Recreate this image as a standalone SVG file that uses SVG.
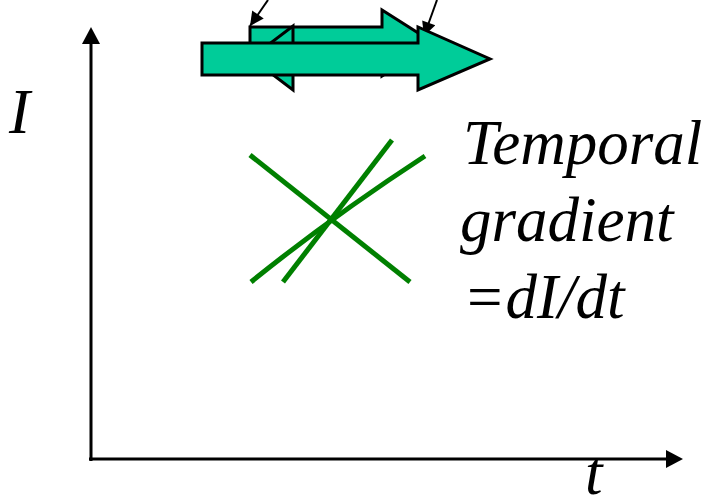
<svg xmlns="http://www.w3.org/2000/svg" width="714" height="501" viewBox="0 0 714 501">
<style>
.blk{fill:#00CC99;stroke:#000;stroke-width:3;stroke-linejoin:miter}
.ax{stroke:#000;stroke-width:3;fill:none}
.ah{fill:#000;stroke:none}
.thin{stroke:#000;stroke-width:2;fill:none}
.gl{stroke:#008000;stroke-width:5;fill:none;stroke-linecap:butt}
.tx{font-family:"Liberation Serif","Times New Roman",serif;font-style:italic;font-size:63px;fill:#000}
</style>
<defs>
<marker id="m" viewBox="0 0 10 10" refX="10" refY="5" markerWidth="17" markerHeight="14" markerUnits="userSpaceOnUse" orient="auto"><path d="M0,0 L10,5 L0,10 Z" fill="#000"/></marker>
</defs>
<rect width="714" height="501" fill="#fff"/>
<g id="axes">
<line class="ax" x1="91" y1="461" x2="91" y2="42"/>
<polygon class="ah" points="91,27 82,44 100,44"/>
<line class="ax" x1="89" y1="459" x2="667" y2="459"/>
<polygon class="ah" points="683,459 666,450 666,468"/>
</g>
<g id="small-arrow">
<polygon class="blk" points="250,27 382,27 382,10 434,43 382,76 382,59 250,59"/>
</g>
<g id="left-arrow">
<polygon class="blk" points="251,58 293,26 293,44 380,44 380,72 293,72 293,90"/>
</g>
<g id="connectors">
<line class="thin" x1="268" y1="0" x2="250" y2="26" style="marker-end:url(#m)"/>
<line class="thin" x1="437" y1="0" x2="424" y2="36" style="marker-end:url(#m)"/>
</g>
<g id="big-arrow">
<polygon class="blk" points="202,43 418,43 418,27 490,59 418,90 418,75 202,75"/>
</g>
<g id="lines">
<line class="gl" x1="250" y1="155" x2="410" y2="282"/>
<path class="gl" d="M425,156 Q330,218 251,282"/>
<line class="gl" x1="392" y1="140" x2="283" y2="282"/>
</g>
<g id="labels">
<text class="tx" x="9" y="133">I</text>
<text class="tx" x="585" y="494">t</text>
<text class="tx" x="463" y="164">Temporal</text>
<text class="tx" x="460" y="241">gradient</text>
<text class="tx" x="463" y="318">=dI/dt</text>
</g>
</svg>
